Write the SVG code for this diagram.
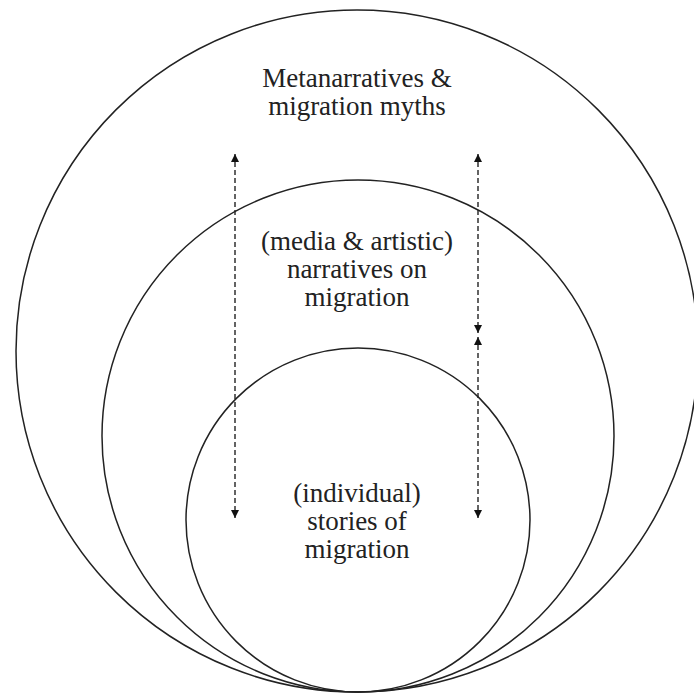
<svg xmlns="http://www.w3.org/2000/svg" width="694" height="695" viewBox="0 0 694 695">
  <style>
    .ring { fill: none; stroke: #222; stroke-width: 1.5; }
    .lbl { font-family: "Liberation Serif", "DejaVu Serif", serif; font-size: 27px; fill: #222; text-anchor: middle; }
    .dash { stroke: #222; stroke-width: 1.4; stroke-dasharray: 5 3; fill: none; }
  </style>
  <defs>
    <marker id="ah" viewBox="0 0 10 10" refX="10" refY="5" markerUnits="userSpaceOnUse" markerWidth="9" markerHeight="8" orient="auto-start-reverse">
      <path d="M0,0 L10,5 L0,10 z" fill="#111"/>
    </marker>
  </defs>
  <rect width="694" height="695" fill="#fff"/>
  <g id="metanarratives">
    <circle class="ring" cx="357" cy="351" r="341"/>
    <text class="lbl" x="357" y="87">Metanarratives &amp;</text>
    <text class="lbl" x="357" y="115">migration myths</text>
  </g>
  <g id="narratives">
    <circle class="ring" cx="358" cy="436" r="256"/>
    <text class="lbl" x="357" y="250">(media &amp; artistic)</text>
    <text class="lbl" x="357" y="278">narratives on</text>
    <text class="lbl" x="357" y="306">migration</text>
  </g>
  <g id="stories">
    <circle class="ring" cx="358" cy="520" r="172"/>
    <text class="lbl" x="357" y="502">(individual)</text>
    <text class="lbl" x="357" y="530">stories of</text>
    <text class="lbl" x="357" y="558">migration</text>
  </g>
  <g id="connectors">
    <line class="dash" x1="235" y1="154" x2="235" y2="518" marker-start="url(#ah)" marker-end="url(#ah)"/>
    <line class="dash" x1="478" y1="154" x2="478" y2="333" marker-start="url(#ah)" marker-end="url(#ah)"/>
    <line class="dash" x1="478" y1="337" x2="478" y2="518" marker-start="url(#ah)" marker-end="url(#ah)"/>
  </g>
</svg>
